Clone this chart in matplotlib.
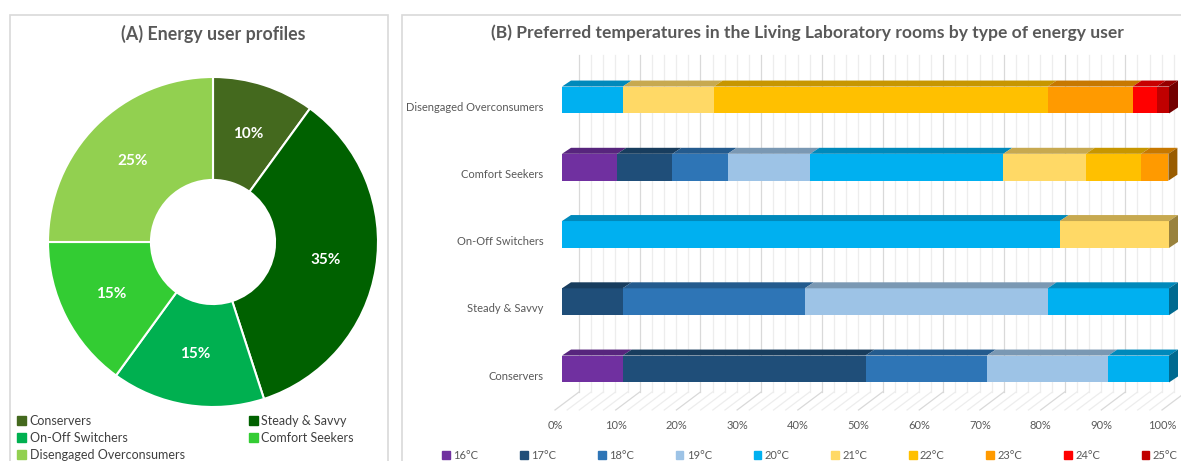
import numpy as np
import matplotlib
matplotlib.use('Agg')
import matplotlib.pyplot as plt
import matplotlib.transforms as mtransforms
from matplotlib.patches import Rectangle, Polygon, Patch
from matplotlib.colors import to_rgb

plt.rcParams['font.family'] = ['Lato', 'DejaVu Sans']

# --- Datos panel A: perfiles de usuario
perfiles = ['Conservers', 'Steady & Savvy', 'On-Off Switchers', 'Comfort Seekers', 'Disengaged Overconsumers']
porcentajes = [10, 35, 15, 15, 25]
colores_perfil = ['#44691E', '#006100', '#00B050', '#33CC33', '#92D050']

# --- Datos panel B: temperatura preferida (%), orden 16..25 °C
temperaturas = ['16°C', '17°C', '18°C', '19°C', '20°C', '21°C', '22°C', '23°C', '24°C', '25°C']
colores_temp = ['#7030A0', '#1F4E79', '#2E75B6', '#9DC3E6', '#00B0F0',
                '#FFD966', '#FFC000', '#FF9A00', '#FF0000', '#C00000']
conservers = [10, 40, 20, 20, 10, 0, 0, 0, 0, 0]
steady_savvy = [0, 10, 30, 40, 20, 0, 0, 0, 0, 0]
on_off = [0, 0, 0, 0, 82, 18, 0, 0, 0, 0]
comfort = [9.1, 9.1, 9.1, 13.6, 31.8, 13.6, 9.1, 4.5, 0, 0]
disengaged = [0, 0, 0, 0, 10, 15, 55, 14, 4, 2]
ticks_x = [0, 10, 20, 30, 40, 50, 60, 70, 80, 90, 100]

W, H = 1181, 461
fig = plt.figure(figsize=(W / 100, H / 100), dpi=100)
gris = '#595959'

# marcos de los dos paneles
fig.add_artist(Rectangle((10 / W, -0.05), 378 / W, (H - 15) / H + 0.05, transform=fig.transFigure,
                         fill=False, edgecolor='#D9D9D9', linewidth=1.2))
fig.add_artist(Rectangle((402 / W, -0.05), 0.7, (H - 15) / H + 0.05, transform=fig.transFigure,
                         fill=False, edgecolor='#D9D9D9', linewidth=1.2))

# ---------------- Panel A: dona
fig.text(213.5 / W, 1 - 34 / H, '(A) Energy user profiles', ha='center', va='center',
         fontsize=12.8, fontweight='bold', color=gris)
ax1 = fig.add_axes([48 / W, (H - 407) / H, 330 / W, 330 / H])
wedges, _, autotexts = ax1.pie(porcentajes, colors=colores_perfil, startangle=90, counterclock=False,
                               wedgeprops=dict(width=0.624, edgecolor='white', linewidth=1.5),
                               autopct=lambda p: f'{p:.0f}%', pctdistance=0.69,
                               textprops=dict(color='white', fontweight='bold', fontsize=11))
ax1.set_xlim(-1, 1)
ax1.set_ylim(-1, 1)

orden = [0, 2, 4, 1, 3]  # para que la leyenda quede por filas
fig.legend([Patch(color=colores_perfil[i]) for i in orden], [perfiles[i] for i in orden],
           loc='upper left', bbox_to_anchor=(12 / W, 1 - 409.5 / H), ncol=2, frameon=False,
           fontsize=9, labelcolor='#404040', handlelength=0.7, handleheight=0.7,
           handletextpad=0.3, labelspacing=0.4, columnspacing=5.15, borderaxespad=0)

# ---------------- Panel B: barras apiladas "3D"
fig.text(807 / W, 1 - 33 / H,
         '(B) Preferred temperatures in the Living Laboratory rooms by type of energy user',
         ha='center', va='center', fontsize=12.6, fontweight='bold', color=gris)

px_x = 6.07   # px por 1 %
px_y = 67.25  # px por categoría
ax2 = fig.add_axes([(562 - 2 * px_x) / W, (H - (369 + 0.75 * px_y)) / H, 106 * px_x / W, 5.5 * px_y / H])
ax2.set_xlim(-2, 104)
ax2.set_ylim(-0.75, 4.75)
ax2.set_frame_on(False)
ax2.tick_params(length=0)
ax2.set_xticks([])

# profundidad
top_dx, top_dy = 9 / px_x, 6 / px_y
wall_dx = 17 / px_x
floor_back = -(392 - 369) / px_y
floor_front = -(410 - 369) / px_y
front_dx = -7 / px_x
wall_top = (369 - 55) / px_y

for g in np.arange(0, 101, 2):
    c = '#D9D9D9' if g % 10 == 0 else '#EDEDED'
    ax2.plot([g + wall_dx, g + wall_dx], [floor_back, wall_top], color=c, lw=0.9, zorder=1)
    ax2.plot([g + wall_dx, g + front_dx], [floor_back, floor_front], color=c, lw=0.9, zorder=1)

datos = np.array([conservers, steady_savvy, on_off, comfort, disengaged])
y_pos = np.arange(len(perfiles))
alto = 0.4
izq = np.zeros(len(perfiles))
for j, temp in enumerate(temperaturas):
    ancho = datos[:, j]
    ax2.barh(y_pos, ancho, left=izq, height=alto, color=colores_temp[j], zorder=3, linewidth=0)
    base = np.array(to_rgb(colores_temp[j]))
    for i in y_pos:
        if ancho[i] <= 0:
            continue
        a, b = izq[i], izq[i] + ancho[i]
        t = i + alto / 2
        ax2.add_patch(Polygon([(a, t), (b, t), (b + top_dx, t + top_dy), (a + top_dx, t + top_dy)],
                              closed=True, color=base * 0.78, zorder=3, linewidth=0))
        if abs(b - datos[i].sum()) < 1e-6:
            bot = i - alto / 2
            ax2.add_patch(Polygon([(b, bot), (b, t), (b + top_dx, t + top_dy), (b + top_dx, bot + top_dy)],
                                  closed=True, color=base * 0.6, zorder=3, linewidth=0))
    izq = izq + ancho

ax2.set_yticks(y_pos, perfiles, fontsize=8, color=gris)
ax2.tick_params(axis='y', pad=4.5)
desplaza = mtransforms.ScaledTranslation(0, -6 / 100, fig.dpi_scale_trans)
for lab in ax2.get_yticklabels():
    lab.set_transform(lab.get_transform() + desplaza)

for v in ticks_x:
    ax2.text(v + front_dx, -(425 - 369) / px_y, f'{v}%', ha='center', va='center',
             fontsize=8, color=gris, clip_on=False)

fig.legend([Patch(color=c) for c in colores_temp], temperaturas, loc='center left',
           bbox_to_anchor=(438 / W, 1 - 455 / H), ncol=10, frameon=False, fontsize=8,
           labelcolor=gris, handlelength=0.7, handleheight=0.7, handletextpad=0.3,
           columnspacing=3.75, borderaxespad=0)

fig.savefig('out.png', dpi=100)
